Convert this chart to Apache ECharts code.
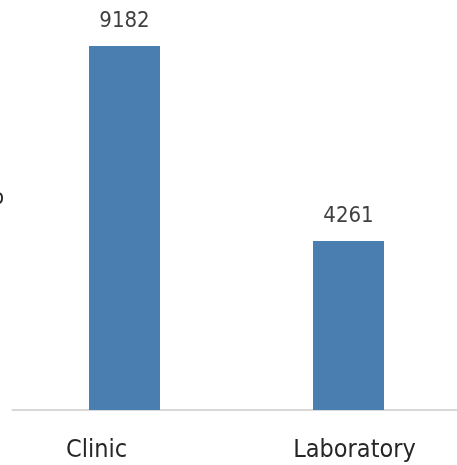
<!DOCTYPE html>
<html>
<head>
<meta charset="utf-8">
<script src="https://cdn.jsdelivr.net/npm/echarts@6/dist/echarts.min.js"></script>
<style>html,body{margin:0;padding:0;background:#fff}#c{width:457px;height:465px}</style>
</head>
<body>
<div id="c"></div>
<script>
const categories = ['Clinic', 'Laboratory'];
const values = [9182, 4261];

const chart = echarts.init(document.getElementById('c'));
chart.setOption({
  animation: false,
  grid: { left: 12.5, width: 448, top: 13.6, bottom: 55, containLabel: false, outerBoundsMode: 'none' },
  xAxis: {
    type: 'category',
    data: categories,
    axisLine: { lineStyle: { color: '#d9d9d9', width: 2 } },
    axisTick: { show: false },
    axisLabel: {
      interval: 0, hideOverlap: false,
      color: '#262626', fontSize: 25, fontFamily: 'DejaVu Sans Condensed', margin: 28,
      formatter: function (v, i) { return i === 0 ? '{a|' + v + '}' : '{b|' + v + '}'; },
      rich: {
        a: { fontSize: 25, fontFamily: 'DejaVu Sans Condensed', color: '#262626', padding: [0, 56, 0, 0] },
        b: { fontSize: 25, fontFamily: 'DejaVu Sans Condensed', color: '#262626', padding: [0, 0, 0, 12] }
      }
    }
  },
  yAxis: {
    type: 'value', min: 0, max: 10000,
    show: false
  },
  graphic: [{
    type: 'text', left: -8, top: 187,
    style: { text: 'o', fontSize: 22, fontFamily: 'DejaVu Sans Condensed', fill: '#262626' }
  }],
  series: [{
    type: 'bar',
    data: values,
    barWidth: 71,
    itemStyle: { color: '#4a7eb1' },
    label: {
      show: true, position: 'top', distance: 14,
      color: '#404040', fontSize: 22, fontFamily: 'DejaVu Sans Condensed'
    }
  }]
});
</script>
</body>
</html>
